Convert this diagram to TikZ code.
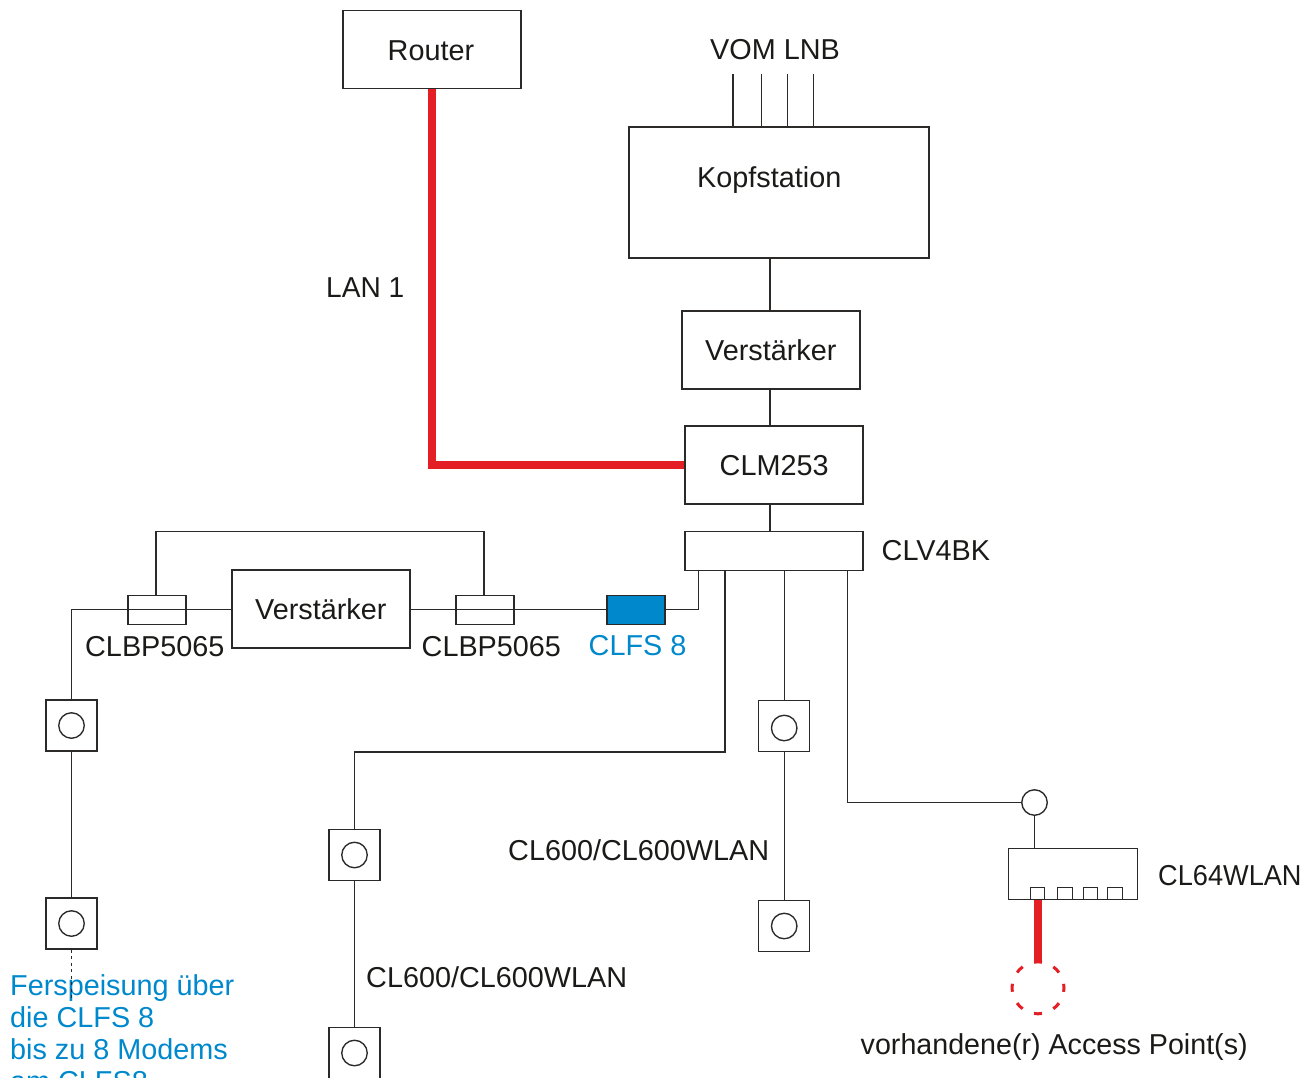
\documentclass[tikz,border=0pt]{standalone}
\usepackage{fontspec}
\setmainfont{Liberation Sans}
\definecolor{ln}{HTML}{2B2A29}
\definecolor{tx}{HTML}{1A1A18}
\definecolor{rd}{HTML}{E31E24}
\definecolor{bl}{HTML}{0088CC}
\tikzset{
 x=1pt,y=-1pt,
 wire/.style={draw=ln,line width=1.35pt},
 redwire/.style={draw=rd,line width=7.3pt},
 boxn/.style={draw=ln,line width=1.35pt,inner sep=0pt,fill=white},
 lbl/.style={inner sep=0pt,anchor=base west,text=tx,font=\fontsize{28.8}{30}\selectfont},
 blbl/.style={lbl,text=bl},
 socket/.style={boxn,minimum width=51pt,minimum height=51pt},
 ring/.style={draw=ln,line width=1.35pt,circle,inner sep=0pt,minimum size=25.5pt,fill=white},
 port/.style={boxn,minimum width=14.5pt,minimum height=11.5pt},
 filt/.style={boxn,minimum width=58pt,minimum height=29pt},
}
\begin{document}
\begin{tikzpicture}
\useasboundingbox (0,0) rectangle (1313,1077);
\clip (0,0) rectangle (1313,1077);
% boxes
\node[boxn,minimum width=178pt,minimum height=78pt] (router) at (432,49.5) {};
\node[boxn,minimum width=300pt,minimum height=131pt] (kopf) at (779,192.5) {};
\node[boxn,minimum width=178pt,minimum height=78pt] (vst) at (771,350) {};
\node[boxn,minimum width=178pt,minimum height=78pt] (clm) at (774,465) {};
\node[boxn,minimum width=178pt,minimum height=39pt] (clv) at (774,551) {};
\node[boxn,minimum width=178pt,minimum height=78pt] (vst2) at (321,609) {};
% couplers / filter
\coordinate (bus) at (0,609.5);
\coordinate (byl) at (156,0);
\coordinate (byr) at (484,0);
\coordinate (byt) at (0,531.7);
\node[filt] (bpl) at (157,610) {};
\node[filt] (bpr) at (485,610) {};
\node[filt,fill=bl] (clfs) at (636,610) {};
% sockets
\node[socket] (s1) at (71.5,725.5) {};
\node[socket] (s2) at (71.5,923.5) {};
\node[socket] (s3) at (354.5,855) {};
\node[socket] (s4) at (354.5,1053) {};
\node[socket] (s5) at (784.2,726) {};
\node[socket] (s6) at (784.2,926) {};
\node[ring] at (s1) {};
\node[ring] at (s2) {};
\node[ring] at (s3) {};
\node[ring] at (s4) {};
\node[ring] at (784.2,728) {};
\node[ring] at (s6) {};
% WLAN
\node[ring] (wr) at (1034.5,802.5) {};
\node[boxn,minimum width=129pt,minimum height=51pt] (wl) at (1073,874) {};
\node[port] (p1) at (1037.5,893.5) {};
\node[port] (p2) at (1065,893.5) {};
\node[port] (p3) at (1090.5,893.5) {};
\node[port] (p4) at (1115,893.5) {};
\node[draw=none,circle,minimum size=52pt,inner sep=0pt] (ap) at (1038,988) {};
% VOM feed stubs
\coordinate (v1) at (733,74);
\coordinate (v2) at (761.5,74);
\coordinate (v3) at (787.5,74);
\coordinate (v4) at (813.5,74);
\foreach \v in {v1,v2,v3,v4} \draw[wire] (\v) -- (\v |- kopf.north);
% trunk
\coordinate (t) at (770,0);
\draw[wire] (kopf.south -| t) -- (vst.north -| t);
\draw[wire] (vst.south -| t) -- (clm.north -| t);
\draw[wire] (clm.south -| t) -- (clv.north -| t);
% red LAN
\draw[redwire,line join=miter] (router.south) -- (router.south |- clm.west) -- (clm.west);
% left branch
\coordinate (o1) at (698.5,0);
\coordinate (o2) at (725,0);
\coordinate (o3) at (784.2,0);
\coordinate (o4) at (847.5,0);
\draw[wire] (clv.south -| o1) |- (clfs.east |- bus);
\draw[wire] (clfs.west |- bus) -- (vst2.east |- bus);
\draw[wire] (vst2.west |- bus) -- (s1.north |- bus) -- (s1.north);
\draw[wire] (bpl.north -| byl) |- (byr |- byt) -- (bpr.north -| byr);
\draw[wire] (s1.south) -- (s2.north);
% middle
\draw[wire] (clv.south -| o2) -- (o2 |- 0,752) -| (s3.north);
\draw[wire] (s3.south) -- (s4.north);
\draw[wire] (clv.south -| o3) -- (s5.north);
\draw[wire] (s5.south) -- (s6.north);
\draw[wire] (clv.south -| o4) |- (wr.west);
\draw[wire] (wr.south) -- (wl.north -| wr.south);
% red AP
\draw[draw=rd,line width=7.3pt] (wl.south -| ap.north) -- (ap.north);
\draw[draw=rd,line width=3pt,dash pattern=on 8pt off 12.4pt,dash phase=4pt] (ap.north) arc[start angle=90,end angle=-270,radius=26pt];
% labels
\node[lbl] (t1) at (387.5,60) {Router};
\node[lbl] (t2) at (710,59) {VOM LNB};
\node[lbl] (t3) at (697,187) {Kopfstation};
\node[lbl] (t4) at (705,360) {Verstärker};
\node[lbl] (t5) at (719.5,475) {CLM253};
\node[lbl] (t6) at (881.5,560) {CLV4BK};
\node[lbl] (t7) at (255,619) {Verstärker};
\node[lbl] (t8) at (85,656) {CLBP5065};
\node[lbl] (t9) at (421.5,656) {CLBP5065};
\node[blbl] (t10) at (588.5,655) {CLFS 8};
\node[lbl] (t11) at (326,297) {\scalebox{0.975}[1]{LAN 1}};
\node[lbl] (t12) at (508,860) {CL600/CL600WLAN};
\node[lbl] (t13) at (366,987) {CL600/CL600WLAN};
\node[lbl] (t14) at (1158,885) {\scalebox{0.943}[1]{CL64WLAN}};
\node[lbl] (t15) at (860.5,1054) {\scalebox{0.995}[1]{vorhandene(r) Access Point(s)}};
\node[blbl] (t16) at (10,995) {Ferspeisung über};
\node[blbl] (t17) at (10,1027) {die CLFS 8};
\node[blbl] (t18) at (10,1059) {bis zu 8 Modems};
\node[blbl] (t19) at (10,1091) {am CLFS8};
% feed continuation, drawn over the text as in the source
\draw[draw=ln,line width=1.5pt,dash pattern=on 3pt off 3.5pt] (s2.south) -- +(0,52);
\end{tikzpicture}
\end{document}
